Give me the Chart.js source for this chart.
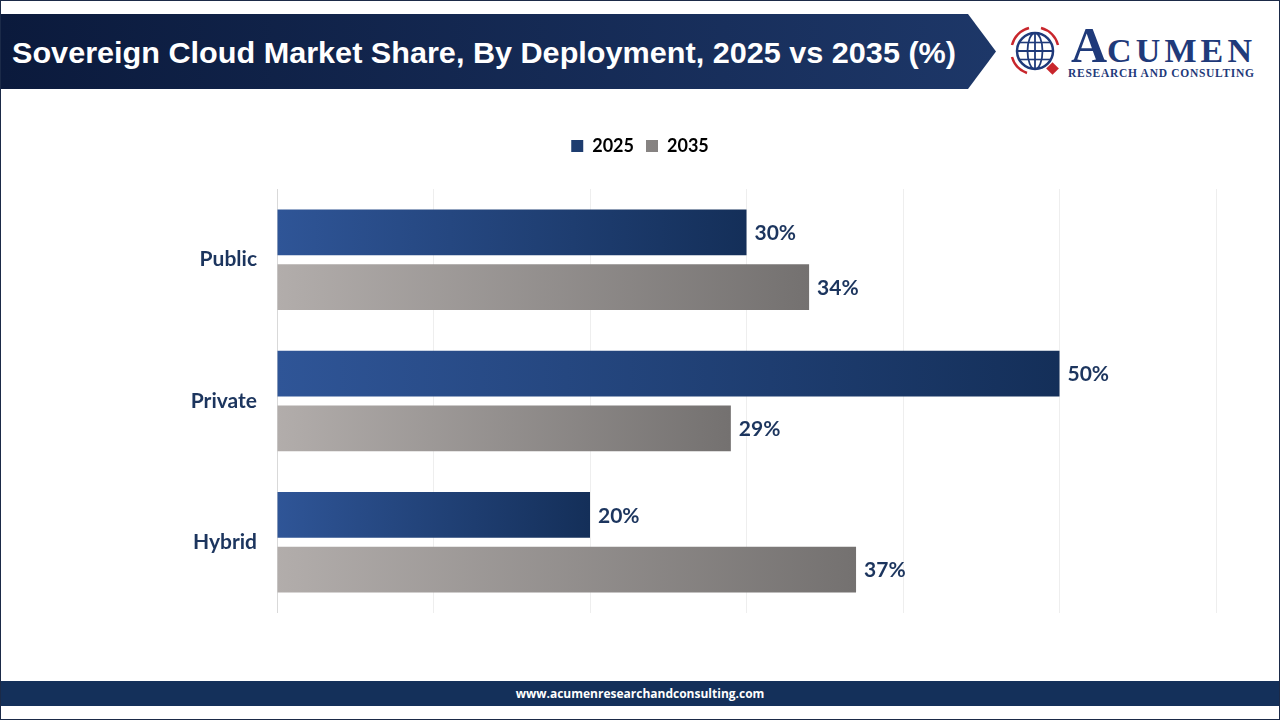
<!DOCTYPE html>
<html>
<head>
<meta charset="utf-8">
<script src="https://cdn.jsdelivr.net/npm/chart.js@4.4.1/dist/chart.umd.min.js"></script>
<style>
  html, body { margin: 0; padding: 0; background: #fff; }
  body { width: 1280px; height: 720px; position: relative; overflow: hidden; }
  #frame { position: absolute; left: 0; top: 0; width: 1278px; height: 718px; border: 1px solid #1b2a48; }
  #banner { position: absolute; left: 1px; top: 14px; width: 996px; height: 75px; }
  #title { position: absolute; left: 12px; top: 14px; height: 75px; line-height: 78px; color: #fff;
    font-family: "Liberation Sans", Arial, sans-serif; font-weight: bold; font-size: 30px; white-space: nowrap;
    transform-origin: left center; }
  #logo { position: absolute; left: 1005px; top: 18px; width: 260px; height: 66px; }
  #footer { position: absolute; left: 1px; top: 681px; width: 1278px; height: 25px; background: #14305a;
    color: #fff; font-family: "Open Sans", sans-serif; font-weight: bold; font-size: 12px; text-align: center; line-height: 25px; }
  #wrap { position: absolute; left: 0; top: 0; width: 1280px; height: 720px; }
</style>
</head>
<body>
<div id="frame"></div>
<svg id="banner" viewBox="0 0 996 75">
  <defs>
    <linearGradient id="bg" x1="0" x2="1" y1="0" y2="0">
      <stop offset="0" stop-color="#0b1a3c"/>
      <stop offset="1" stop-color="#1d3768"/>
    </linearGradient>
  </defs>
  <polygon points="0,0 967,0 995,37.5 967,75 0,75" fill="url(#bg)"/>
</svg>
<div id="title">Sovereign Cloud Market Share, By Deployment, 2025 vs 2035 (%)</div>
<svg id="logo" viewBox="0 0 260 66">
  <g transform="translate(30,33)">
    <path d="M -23 -6 A 24 24 0 0 1 -6 -23" fill="none" stroke="#c8262c" stroke-width="2.5"/>
    <path d="M 6 -23 A 24 24 0 0 1 23 -6" fill="none" stroke="#c8262c" stroke-width="2.5"/>
    <path d="M -23 6 A 24 24 0 0 0 -8 22" fill="none" stroke="#c8262c" stroke-width="2.5"/>
    <circle cx="0" cy="0" r="18" fill="#fff" stroke="#1f3a7a" stroke-width="2.5"/>
    <ellipse cx="0" cy="0" rx="7.5" ry="18" fill="none" stroke="#1f3a7a" stroke-width="1.8"/>
    <line x1="0" y1="-18" x2="0" y2="18" stroke="#1f3a7a" stroke-width="1.8"/>
    <line x1="-18" y1="0" x2="18" y2="0" stroke="#1f3a7a" stroke-width="1.8"/>
    <line x1="-16" y1="-8.5" x2="16" y2="-8.5" stroke="#1f3a7a" stroke-width="1.6"/>
    <line x1="-16" y1="8.5" x2="16" y2="8.5" stroke="#1f3a7a" stroke-width="1.6"/>
    <rect x="13" y="13" width="9" height="9" fill="#c8262c" transform="rotate(45 17.5 17.5)"/>
  </g>
  <text x="66" y="44" font-family="Liberation Serif, serif" font-weight="bold" fill="#1f3a7a" font-size="50">A</text>
  <text x="102" y="44" font-family="Liberation Serif, serif" font-weight="bold" fill="#1f3a7a" font-size="34" textLength="145">CUMEN</text>
  <text x="63" y="59" font-family="Liberation Serif, serif" font-weight="bold" fill="#1f3a7a" font-size="11.5" textLength="186">RESEARCH AND CONSULTING</text>
</svg>
<div id="wrap"><canvas id="chart1" width="1280" height="720"></canvas></div>
<div id="footer">www.acumenresearchandconsulting.com</div>
<script>
var categories = ['Public', 'Private', 'Hybrid'];
var years = ['2025', '2035'];
var share2025 = [30, 50, 20];
var share2035 = [34, 29, 37];
var xTicks = [0, 10, 20, 30, 40, 50, 60];

// fit the title to the banner width
var title = document.querySelector('#title');
var tw = title.getBoundingClientRect().width;
title.style.transform = 'scaleX(' + (944 / tw) + ')';

function barGradient(from, to, solid) {
  return function (ctx) {
    var chart = ctx.chart;
    if (ctx.type !== 'data' || !chart.chartArea) return solid;
    var xs = chart.scales.x;
    var x0 = xs.getPixelForValue(0);
    var x1 = xs.getPixelForValue(ctx.raw);
    var g = chart.ctx.createLinearGradient(x0, 0, x1, 0);
    g.addColorStop(0, from);
    g.addColorStop(1, to);
    return g;
  };
}

var valueLabels = {
  id: 'valueLabels',
  afterDatasetsDraw: function (chart) {
    var c = chart.ctx;
    c.save();
    c.font = 'bold 21px Lato';
    c.fillStyle = '#1c355e';
    c.textBaseline = 'middle';
    c.textAlign = 'left';
    chart.data.datasets.forEach(function (ds, i) {
      chart.getDatasetMeta(i).data.forEach(function (el, j) {
        c.fillText(ds.data[j] + '%', el.x + 8, el.y + 1);
      });
    });
    c.restore();
  }
};

var chart1 = new Chart(document.querySelector('#chart1'), {
  type: 'bar',
  data: {
    labels: categories,
    datasets: [{
      label: years[0],
      data: share2025,
      backgroundColor: barGradient('#2f5597', '#142f59', '#23477f'),
      borderWidth: 0
    }, {
      label: years[1],
      data: share2035,
      backgroundColor: barGradient('#b2adab', '#747170', '#8f8b8a'),
      borderWidth: 0
    }]
  },
  options: {
    indexAxis: 'y',
    responsive: false,
    animation: false,
    categoryPercentage: 0.775,
    barPercentage: 0.836,
    layout: { padding: { top: 125, bottom: 107, left: 64, right: 64 } },
    plugins: {
      legend: {
        position: 'top',
        labels: {
          boxWidth: 12, boxHeight: 12, padding: 12,
          color: '#000',
          font: { family: 'Lato', weight: 'bold', size: 18 }
        }
      },
      tooltip: { enabled: false }
    },
    scales: {
      x: {
        position: 'top',
        min: 0, max: 60,
        afterBuildTicks: function (s) { s.ticks = xTicks.map(function (v) { return { value: v }; }); },
        afterFit: function (s) { s.height = 24; },
        ticks: { display: false },
        border: { display: false },
        grid: {
          drawTicks: false,
          color: function (ctx) { return ctx.tick && ctx.tick.value === 0 ? '#d9d9d9' : '#eeeeee'; },
          lineWidth: 1
        }
      },
      y: {
        afterFit: function (s) { s.width = 213; },
        border: { display: false },
        grid: { display: false },
        ticks: {
          padding: 12,
          color: '#1c355e',
          font: { family: 'Lato', weight: 'bold', size: 21 }
        }
      }
    }
  },
  plugins: [valueLabels]
});
</script>
</body>
</html>
